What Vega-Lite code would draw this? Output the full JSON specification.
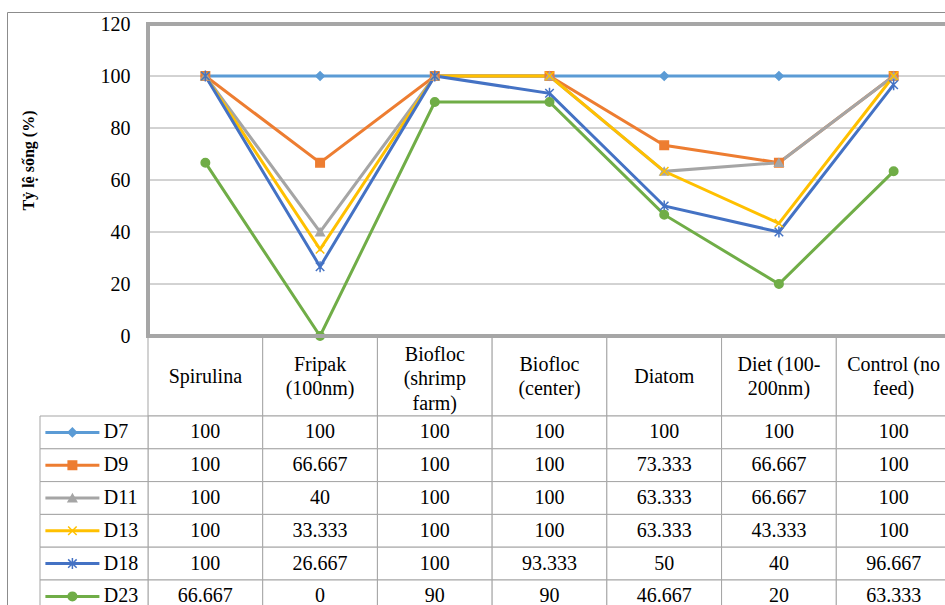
{
"$schema":"https://vega.github.io/schema/vega-lite/v6.json",
"width":938,"height":593,
"autosize":{"type":"none"},
"padding":{"left":7,"top":12,"right":0,"bottom":0},
"background":"white",
"config":{"view":{"stroke":"#8c8c8c","strokeWidth":1,"fill":"white"},"text":{"font":"Liberation Serif","fontSize":20,"color":"black"}},
"datasets":{
"vals":[
{"cat":"Spirulina","series":"D7","value":100},{"cat":"Fripak\n(100nm)","series":"D7","value":100},{"cat":"Biofloc\n(shrimp\nfarm)","series":"D7","value":100},{"cat":"Biofloc\n(center)","series":"D7","value":100},{"cat":"Diatom","series":"D7","value":100},{"cat":"Diet (100-\n200nm)","series":"D7","value":100},{"cat":"Control (no\nfeed)","series":"D7","value":100},
{"cat":"Spirulina","series":"D9","value":100},{"cat":"Fripak\n(100nm)","series":"D9","value":66.667},{"cat":"Biofloc\n(shrimp\nfarm)","series":"D9","value":100},{"cat":"Biofloc\n(center)","series":"D9","value":100},{"cat":"Diatom","series":"D9","value":73.333},{"cat":"Diet (100-\n200nm)","series":"D9","value":66.667},{"cat":"Control (no\nfeed)","series":"D9","value":100},
{"cat":"Spirulina","series":"D11","value":100},{"cat":"Fripak\n(100nm)","series":"D11","value":40},{"cat":"Biofloc\n(shrimp\nfarm)","series":"D11","value":100},{"cat":"Biofloc\n(center)","series":"D11","value":100},{"cat":"Diatom","series":"D11","value":63.333},{"cat":"Diet (100-\n200nm)","series":"D11","value":66.667},{"cat":"Control (no\nfeed)","series":"D11","value":100},
{"cat":"Spirulina","series":"D13","value":100},{"cat":"Fripak\n(100nm)","series":"D13","value":33.333},{"cat":"Biofloc\n(shrimp\nfarm)","series":"D13","value":100},{"cat":"Biofloc\n(center)","series":"D13","value":100},{"cat":"Diatom","series":"D13","value":63.333},{"cat":"Diet (100-\n200nm)","series":"D13","value":43.333},{"cat":"Control (no\nfeed)","series":"D13","value":100},
{"cat":"Spirulina","series":"D18","value":100},{"cat":"Fripak\n(100nm)","series":"D18","value":26.667},{"cat":"Biofloc\n(shrimp\nfarm)","series":"D18","value":100},{"cat":"Biofloc\n(center)","series":"D18","value":93.333},{"cat":"Diatom","series":"D18","value":50},{"cat":"Diet (100-\n200nm)","series":"D18","value":40},{"cat":"Control (no\nfeed)","series":"D18","value":96.667},
{"cat":"Spirulina","series":"D23","value":66.667},{"cat":"Fripak\n(100nm)","series":"D23","value":0},{"cat":"Biofloc\n(shrimp\nfarm)","series":"D23","value":90},{"cat":"Biofloc\n(center)","series":"D23","value":90},{"cat":"Diatom","series":"D23","value":46.667},{"cat":"Diet (100-\n200nm)","series":"D23","value":20},{"cat":"Control (no\nfeed)","series":"D23","value":63.333}
],
"cats":[{"cat":"Spirulina"},{"cat":"Fripak\n(100nm)"},{"cat":"Biofloc\n(shrimp\nfarm)"},{"cat":"Biofloc\n(center)"},{"cat":"Diatom"},{"cat":"Diet (100-\n200nm)"},{"cat":"Control (no\nfeed)"}],
"series":[{"series":"D7"},{"series":"D9"},{"series":"D11"},{"series":"D13"},{"series":"D18"},{"series":"D23"}],
"grid":[{"g":20},{"g":40},{"g":60},{"g":80},{"g":100}]
},
"resolve":{"scale":{"x":"independent","y":"independent"}},
"layer":[
{
"data":{"name":"cats"},
"encoding":{
"x":{"field":"cat","type":"nominal","axis":null,"scale":{"type":"band","domain":["Spirulina","Fripak\n(100nm)","Biofloc\n(shrimp\nfarm)","Biofloc\n(center)","Diatom","Diet (100-\n200nm)","Control (no\nfeed)"],"range":[141,944],"paddingInner":0,"paddingOuter":0}},
"y":{"datum":"hdr","type":"nominal","axis":null,"scale":{"type":"band","domain":["hdr"],"range":[324,404],"paddingInner":0,"paddingOuter":0}}
},
"layer":[
{"mark":{"type":"rect","fill":"white","stroke":"#a5a5a5","strokeWidth":1}},
{"transform":[{"filter":{"field":"cat","oneOf":["Spirulina","Diatom"]}}],
"mark":{"type":"text","baseline":"middle","align":"center","fontSize":20,"font":"Liberation Serif","color":"black","dy":1},
"encoding":{"text":{"field":"cat","type":"nominal"}}},
{"transform":[{"filter":{"field":"cat","oneOf":["Fripak\n(100nm)","Biofloc\n(center)","Diet (100-\n200nm)","Control (no\nfeed)"]}}],
"mark":{"type":"text","lineBreak":"\n","lineHeight":24.5,"baseline":"middle","align":"center","fontSize":20,"font":"Liberation Serif","color":"black","dy":-11.5},
"encoding":{"text":{"field":"cat","type":"nominal"}}},
{"transform":[{"filter":{"field":"cat","oneOf":["Biofloc\n(shrimp\nfarm)"]}}],
"mark":{"type":"text","lineBreak":"\n","lineHeight":24.5,"baseline":"middle","align":"center","fontSize":20,"font":"Liberation Serif","color":"black","dy":-21.5},
"encoding":{"text":{"field":"cat","type":"nominal"}}}
]
},
{
"resolve":{"scale":{"x":"independent"}},
"layer":[
{
"data":{"name":"vals"},
"layer":[
{"mark":{"type":"rect","fill":"white","stroke":"#a5a5a5","strokeWidth":1},
"encoding":{
"x":{"field":"cat","type":"nominal","axis":null,"scale":{"type":"band","domain":["Spirulina","Fripak\n(100nm)","Biofloc\n(shrimp\nfarm)","Biofloc\n(center)","Diatom","Diet (100-\n200nm)","Control (no\nfeed)"],"range":[141,944],"paddingInner":0,"paddingOuter":0}},
"y":{"field":"series","type":"nominal","axis":null,"scale":{"type":"band","domain":["D7","D9","D11","D13","D18","D23"],"range":[404,600.8],"paddingInner":0,"paddingOuter":0}}}},
{"mark":{"type":"text","baseline":"middle","align":"center","fontSize":20,"font":"Liberation Serif","color":"black"},
"encoding":{
"x":{"field":"cat","type":"nominal","axis":null,"scale":{"type":"band","domain":["Spirulina","Fripak\n(100nm)","Biofloc\n(shrimp\nfarm)","Biofloc\n(center)","Diatom","Diet (100-\n200nm)","Control (no\nfeed)"],"range":[141,944],"paddingInner":0,"paddingOuter":0}},
"y":{"field":"series","type":"nominal","axis":null,"scale":{"type":"band","domain":["D7","D9","D11","D13","D18","D23"],"range":[404,600.8],"paddingInner":0,"paddingOuter":0}},
"text":{"field":"value","type":"nominal"}}}
]
},
{
"data":{"name":"series"},
"layer":[
{"mark":{"type":"rect","fill":"white","stroke":"#a5a5a5","strokeWidth":1},
"encoding":{
"x":{"datum":"key","type":"nominal","axis":null,"scale":{"type":"band","domain":["key"],"range":[33,141],"paddingInner":0,"paddingOuter":0}},
"y":{"field":"series","type":"nominal","axis":null,"scale":{"type":"band","domain":["D7","D9","D11","D13","D18","D23"],"range":[404,600.8],"paddingInner":0,"paddingOuter":0}}}},
{"mark":{"type":"point","shape":"stroke","size":2916,"strokeWidth":3,"filled":false,"opacity":1},
"encoding":{
"x":{"datum":"key","type":"nominal","bandPosition":0.3,"axis":null,"scale":{"type":"band","domain":["key"],"range":[33,141],"paddingInner":0,"paddingOuter":0}},
"y":{"field":"series","type":"nominal","axis":null,"scale":{"type":"band","domain":["D7","D9","D11","D13","D18","D23"],"range":[404,600.8],"paddingInner":0,"paddingOuter":0}},
"color":{"field":"series","type":"nominal","legend":null,"scale":{"domain":["D7","D9","D11","D13","D18","D23"],"range":["#5B9BD5","#ED7D31","#A5A5A5","#FFC000","#4472C4","#70AD47"]}}}},
{"mark":{"type":"point","filled":true,"size":72,"strokeWidth":1.5,"opacity":1},
"encoding":{
"x":{"datum":"key","type":"nominal","bandPosition":0.3,"axis":null,"scale":{"type":"band","domain":["key"],"range":[33,141],"paddingInner":0,"paddingOuter":0}},
"y":{"field":"series","type":"nominal","axis":null,"scale":{"type":"band","domain":["D7","D9","D11","D13","D18","D23"],"range":[404,600.8],"paddingInner":0,"paddingOuter":0}},
"color":{"field":"series","type":"nominal","legend":null,"scale":{"domain":["D7","D9","D11","D13","D18","D23"],"range":["#5B9BD5","#ED7D31","#A5A5A5","#FFC000","#4472C4","#70AD47"]}},
"stroke":{"field":"series","type":"nominal","legend":null,"scale":{"domain":["D7","D9","D11","D13","D18","D23"],"range":["#5B9BD5","#ED7D31","#A5A5A5","#FFC000","#4472C4","#70AD47"]}},
"shape":{"field":"series","type":"nominal","legend":null,"scale":{"domain":["D7","D9","D11","D13","D18","D23"],"range":["diamond","square","triangle-up","M-1,-1L1,1M-1,1L1,-1","M-1,-1L1,1M-1,1L1,-1M0,-1.3L0,1.3","circle"]}}}},
{"mark":{"type":"text","baseline":"middle","align":"left","fontSize":20,"font":"Liberation Serif","color":"black"},
"encoding":{
"x":{"datum":"key","type":"nominal","bandPosition":0.59,"axis":null,"scale":{"type":"band","domain":["key"],"range":[33,141],"paddingInner":0,"paddingOuter":0}},
"y":{"field":"series","type":"nominal","axis":null,"scale":{"type":"band","domain":["D7","D9","D11","D13","D18","D23"],"range":[404,600.8],"paddingInner":0,"paddingOuter":0}},
"text":{"field":"series","type":"nominal"}}}
]
}
]
},
{
"layer":[
{"data":{"name":"grid"},
"mark":{"type":"rule","stroke":"#a6a6a6","strokeWidth":1},
"encoding":{
"x":{"datum":"Spirulina","type":"nominal","bandPosition":0,"axis":null,"scale":{"type":"band","domain":["Spirulina","Fripak\n(100nm)","Biofloc\n(shrimp\nfarm)","Biofloc\n(center)","Diatom","Diet (100-\n200nm)","Control (no\nfeed)"],"range":[141,944],"paddingInner":0,"paddingOuter":0}},
"x2":{"datum":"Control (no\nfeed)","bandPosition":1},
"y":{"field":"g","type":"quantitative","title":"Tỷ lệ sống (%)","scale":{"domain":[0,120],"range":[324,12],"nice":false,"zero":false}}}},
{"data":{"name":"vals"},
"mark":{"type":"line","strokeWidth":3},
"encoding":{
"x":{"field":"cat","type":"nominal","axis":null,"scale":{"type":"band","domain":["Spirulina","Fripak\n(100nm)","Biofloc\n(shrimp\nfarm)","Biofloc\n(center)","Diatom","Diet (100-\n200nm)","Control (no\nfeed)"],"range":[141,944],"paddingInner":0,"paddingOuter":0}},
"y":{"field":"value","type":"quantitative","title":"Tỷ lệ sống (%)","scale":{"domain":[0,120],"range":[324,12],"nice":false,"zero":false},
"axis":{"offset":-141,"values":[0,20,40,60,80,100,120],"ticks":false,"domain":false,"grid":false,"labelFont":"Liberation Serif","labelFontSize":20,"labelColor":"black","labelPadding":18,"title":"Tỷ lệ sống (%)","titleFont":"Liberation Serif","titleFontSize":16,"titleFontWeight":"bold","titleColor":"black","titlePadding":64,"titleY":148}},
"color":{"field":"series","type":"nominal","legend":null,"scale":{"domain":["D7","D9","D11","D13","D18","D23"],"range":["#5B9BD5","#ED7D31","#A5A5A5","#FFC000","#4472C4","#70AD47"]}}}},
{"data":{"name":"vals"},
"mark":{"type":"point","filled":true,"size":72,"strokeWidth":1.5,"opacity":1},
"encoding":{
"x":{"field":"cat","type":"nominal","axis":null,"scale":{"type":"band","domain":["Spirulina","Fripak\n(100nm)","Biofloc\n(shrimp\nfarm)","Biofloc\n(center)","Diatom","Diet (100-\n200nm)","Control (no\nfeed)"],"range":[141,944],"paddingInner":0,"paddingOuter":0}},
"y":{"field":"value","type":"quantitative","title":"Tỷ lệ sống (%)","scale":{"domain":[0,120],"range":[324,12],"nice":false,"zero":false}},
"color":{"field":"series","type":"nominal","legend":null,"scale":{"domain":["D7","D9","D11","D13","D18","D23"],"range":["#5B9BD5","#ED7D31","#A5A5A5","#FFC000","#4472C4","#70AD47"]}},
"stroke":{"field":"series","type":"nominal","legend":null,"scale":{"domain":["D7","D9","D11","D13","D18","D23"],"range":["#5B9BD5","#ED7D31","#A5A5A5","#FFC000","#4472C4","#70AD47"]}},
"shape":{"field":"series","type":"nominal","legend":null,"scale":{"domain":["D7","D9","D11","D13","D18","D23"],"range":["diamond","square","triangle-up","M-1,-1L1,1M-1,1L1,-1","M-1,-1L1,1M-1,1L1,-1M0,-1.3L0,1.3","circle"]}}}},
{"data":{"values":[{"b":1}]},
"mark":{"type":"rect","fillOpacity":0,"stroke":"#a6a6a6","strokeWidth":4},
"encoding":{
"x":{"datum":"Spirulina","type":"nominal","bandPosition":0,"axis":null,"scale":{"type":"band","domain":["Spirulina","Fripak\n(100nm)","Biofloc\n(shrimp\nfarm)","Biofloc\n(center)","Diatom","Diet (100-\n200nm)","Control (no\nfeed)"],"range":[141,944],"paddingInner":0,"paddingOuter":0}},
"x2":{"datum":"Control (no\nfeed)","bandPosition":1},
"y":{"datum":0,"type":"quantitative","title":"Tỷ lệ sống (%)","scale":{"domain":[0,120],"range":[324,12],"nice":false,"zero":false}},
"y2":{"datum":120}}}
]
}
]
}
